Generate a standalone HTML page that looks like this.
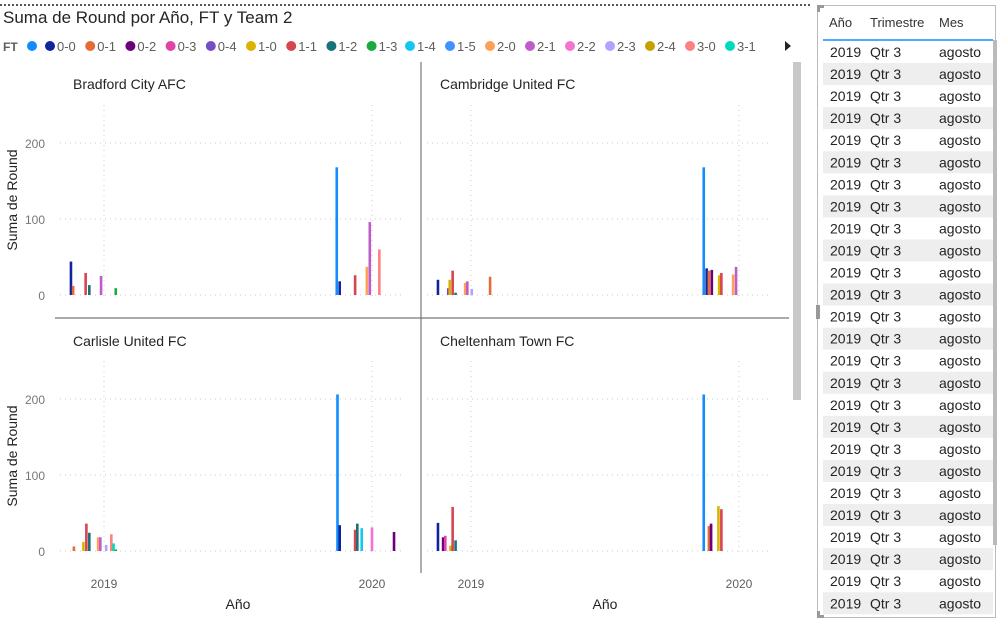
<!DOCTYPE html>
<html><head><meta charset="utf-8">
<style>
body{margin:0;width:997px;height:625px;overflow:hidden;background:#fff;font-family:"Liberation Sans",sans-serif;}
#wrap{position:relative;width:997px;height:625px;}
</style></head>
<body>
<div id="wrap">
<svg id="chart" width="997" height="625" style="position:absolute;left:0;top:0"></svg>
</div>
<script>
const categories=["","0-0","0-1","0-2","0-3","0-4","1-0","1-1","1-2","1-3","1-4","1-5","2-0","2-1","2-2","2-3","2-4","3-0","3-1"];
const colors=["#118DFF","#12239E","#E66C37","#6B007B","#E044A7","#744EC2","#D9B300","#D64550","#197278","#1AAB40","#15C6F4","#4092FF","#FFA058","#BE5DC9","#F472D0","#B5A1FF","#C4A200","#FF8080","#00DBBC"];
const panelNames=["Bradford City AFC","Cambridge United FC","Carlisle United FC","Cheltenham Town FC"];
const yTicks=[0,100,200];
const xTickLabels=["2019","2020"];
const xTickDays=[0,365];
// per-panel bars: day offset from 2019-01-01, category index, value
const p1Days=[-45,-42,-25,-20,-4,16,317,321,342,358,362,375];
const p1Cats=[1,2,7,8,13,9,0,1,7,12,13,17];
const p1Vals=[44,12,29,13,25,9,168,18,26,37,96,60];
const p2Days=[-45,-31,-29,-25,-21,-8,-5,1,26,317,321,324,328,338,341,357,361];
const p2Cats=[1,5,6,7,8,12,13,15,2,0,1,2,3,6,7,12,13];
const p2Vals=[20,9,20,32,3,16,18,8,24,168,35,32,33,26,29,27,37];
const p3Days=[-41,-28,-24,-20,-8,-5,3,10,13,16,318,321,342,345,351,365,395];
const p3Cats=[2,6,7,8,12,13,15,17,18,9,0,1,7,8,10,14,3];
const p3Vals=[6,12,36,24,18,18,8,22,10,2,206,34,28,36,30,31,25];
const p4Days=[-45,-38,-35,-28,-25,-21,317,324,327,337,341];
const p4Cats=[1,3,4,6,7,8,0,2,3,6,7];
const p4Vals=[37,18,20,7,58,14,206,33,36,59,55];
const panelData=[[p1Days,p1Cats,p1Vals],[p2Days,p2Cats,p2Vals],[p3Days,p3Cats,p3Vals],[p4Days,p4Cats,p4Vals]];

const NS="http://www.w3.org/2000/svg";
const svg=document.getElementById('chart');
function mk(tag,attrs,parent,text){const e=document.createElementNS(NS,tag);for(const k in attrs)e.setAttribute(k,attrs[k]);if(text!==undefined)e.textContent=text;(parent||svg).appendChild(e);return e;}

// top dotted border
let t=mk('line',{x1:0,y1:5,x2:812,y2:5,stroke:'#555','stroke-width':2,'stroke-dasharray':'2,2'});


t=mk('text',{x:3,y:23,'font-size':17,fill:'#252423'},svg,'Suma de Round por Año, FT y Team 2');



// legend
t=mk('text',{x:3,y:51,'font-size':12,'font-weight':'bold',fill:'#605E5C'},svg,'FT');


categories.forEach((c,i)=>{
  const x=i===0?32:(i<=9?50+(i-1)*40.2:410+(i-10)*40);
  const g=mk('g',{});
  
  
  mk('circle',{cx:x,cy:46,r:5,fill:colors[i]},g);
  if(c) mk('text',{x:x+7,y:51,'font-size':13,fill:'#605E5C'},g,c);
});
t=mk('path',{d:'M785 41 L791 46 L785 51 Z',fill:'#252423'});



// panels
const panels=[{ox:0,oy:0,title:[73,89],yLabel:true},{ox:367,oy:0,title:[440,89],yLabel:false},{ox:0,oy:256,title:[73,346],yLabel:true},{ox:367,oy:256,title:[440,346],yLabel:false}];
const base0=295, pxPerUnit=0.76, yearPx=268;
panels.forEach((p,pi)=>{
  const g=mk('g',{});
  
  
  const x0=104+p.ox, yb=base0+p.oy;
  const xs=d=>x0+d*yearPx/365;
  const ys=v=>yb-v*pxPerUnit;
  mk('text',{x:p.title[0],y:p.title[1],'font-size':14,fill:'#252423'},g,panelNames[pi]);
  // gridlines
  yTicks.forEach(v=>{
    mk('line',{x1:60+p.ox,x2:405+p.ox,y1:ys(v),y2:ys(v),stroke:'#ccc','stroke-dasharray':'1,4'},g);
    if(p.yLabel) mk('text',{x:45,y:ys(v)+5,'font-size':12,fill:'#777','text-anchor':'end'},g,String(v));
  });
  xTickDays.forEach((d,i)=>{
    mk('line',{x1:xs(d),x2:xs(d),y1:yb-190,y2:yb+3,stroke:'#ccc','stroke-dasharray':'1,4'},g);
    if(p.oy>0) mk('text',{x:xs(d),y:588,'font-size':12,fill:'#605E5C','text-anchor':'middle'},g,xTickLabels[i]);
  });
  const [days,cats,vals]=panelData[pi];
  days.forEach((d,i)=>{
    const r=mk('rect',{x:xs(d)-1.3,y:ys(vals[i]),width:2.6,height:vals[i]*pxPerUnit,fill:colors[cats[i]]},g);
    
    
  });
  if(p.yLabel){
    const yl=mk('text',{x:0,y:0,'font-size':14,fill:'#252423','text-anchor':'middle',transform:'translate(17,'+(yb-95)+') rotate(-90)'},g,'Suma de Round');
  }
});
['x-axis-title-left','x-axis-title-right'].forEach((n,i)=>{
  t=mk('text',{x:238+i*367,y:609,'font-size':14,fill:'#252423','text-anchor':'middle'},svg,'Año');
  
  
});
t=mk('line',{x1:421,y1:62,x2:421,y2:573,stroke:'#777','stroke-width':1.2});


t=mk('line',{x1:55,y1:318,x2:789,y2:318,stroke:'#777','stroke-width':1.2});


t=mk('rect',{x:793,y:62,width:8,height:338,fill:'#c8c8c8'});



// table
const tg=mk('g',{});


mk('rect',{x:817.5,y:5.5,width:178,height:612,fill:'#fff',stroke:'#bbb'},tg);
mk('path',{d:'M817 5 h7 v3 h-4 v4 h-3 Z',fill:'#999'},tg);
mk('rect',{x:816,y:305,width:4,height:14,fill:'#999'},tg);
mk('path',{d:'M817 618 h7 v-3 h-4 v-4 h-3 Z',fill:'#999'},tg);
mk('text',{x:829,y:27,'font-size':13,fill:'#333'},tg,'Año');
mk('text',{x:870,y:27,'font-size':13,fill:'#333'},tg,'Trimestre');
mk('text',{x:939,y:27,'font-size':13,fill:'#333'},tg,'Mes');
mk('line',{x1:823,y1:40,x2:993,y2:40,stroke:'#118DFF','stroke-width':1.5},tg);
for(let r=0;r<26;r++){
  const y=41+r*22.05;
  const row=mk('g',{},tg);
  
  
  if(r%2===1) mk('rect',{x:823,y:y,width:170,height:22,fill:'#eeeeee'},row);
  mk('text',{x:830,y:y+16,'font-size':14,fill:'#252423'},row,'2019');
  mk('text',{x:870,y:y+16,'font-size':14,fill:'#252423'},row,'Qtr 3');
  mk('text',{x:939,y:y+16,'font-size':14,fill:'#252423'},row,'agosto');
}
t=mk('rect',{x:993,y:40,width:4,height:505,fill:'#bbb'});


</script>
</body></html>
